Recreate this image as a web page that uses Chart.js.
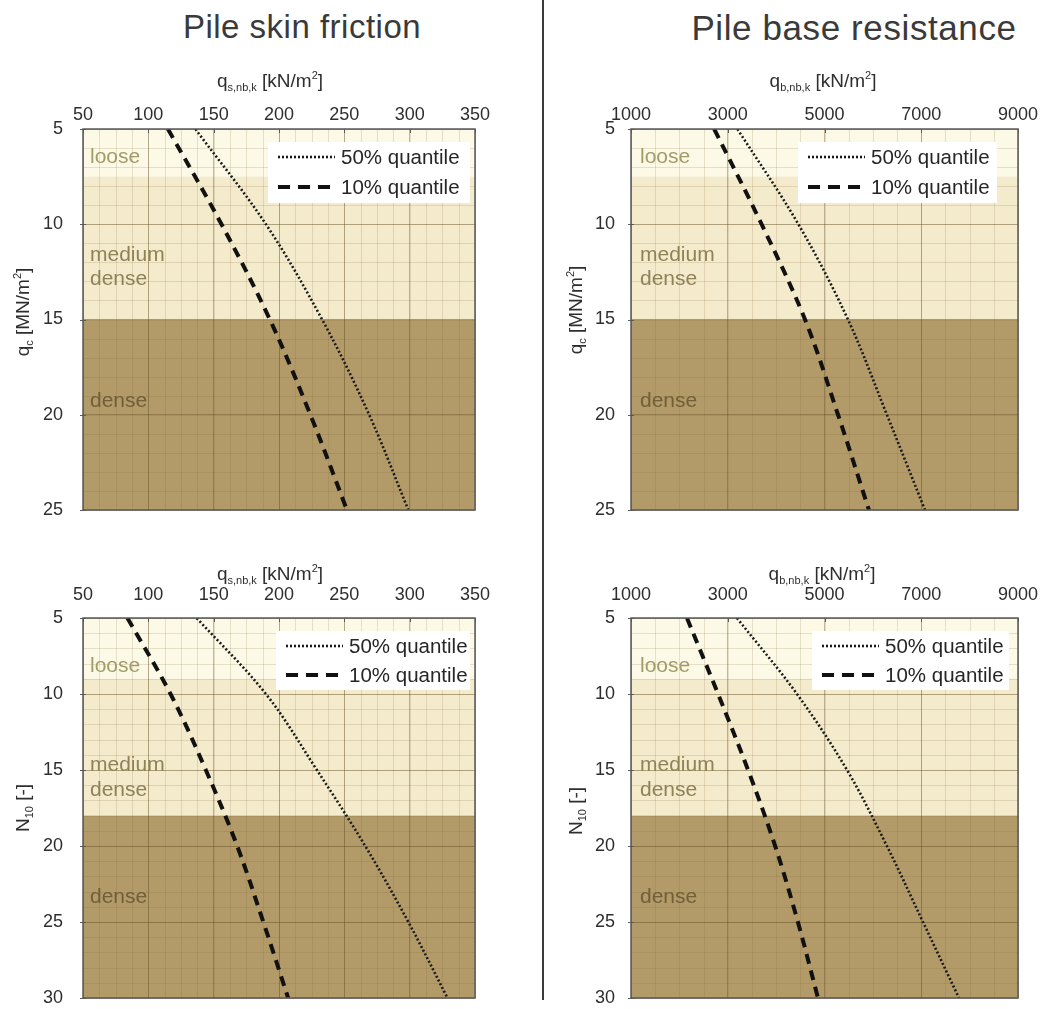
<!DOCTYPE html>
<html><head><meta charset="utf-8">
<script src="https://cdn.jsdelivr.net/npm/chart.js@4.4.0/dist/chart.umd.min.js"></script>
<style>
html,body{margin:0;padding:0;background:#fff;}
body{width:1051px;height:1009px;position:relative;overflow:hidden;font-family:"Liberation Sans",Arial,sans-serif;}
.ttl{position:absolute;top:8px;color:#3a3a3a;white-space:nowrap;transform:translateX(-50%);}
.wrap{position:absolute;}
.wrap canvas{display:block;}
#divider{position:absolute;left:542px;top:0;width:2px;height:1000px;background:#3a3a3a;}
</style></head>
<body>
<div class="ttl" style="left:302px;font-size:33px;letter-spacing:0.5px">Pile skin friction</div>
<div class="ttl" style="left:854px;font-size:35px;letter-spacing:0.6px">Pile base resistance</div>
<div id="divider"></div>
<div class="wrap" style="left:0;top:50px;width:530px;height:470px"><canvas id="c1" width="530" height="470"></canvas></div>
<div class="wrap" style="left:545px;top:50px;width:506px;height:470px"><canvas id="c2" width="506" height="470"></canvas></div>
<div class="wrap" style="left:0;top:540px;width:530px;height:469px"><canvas id="c3" width="530" height="469"></canvas></div>
<div class="wrap" style="left:545px;top:540px;width:506px;height:469px"><canvas id="c4" width="506" height="469"></canvas></div>
<script>
// ---------- DATA ----------
const qcLevels = [5, 10, 15, 20, 25];          // q_c [MN/m²]
const n10Levels = [5, 10, 15, 20, 25, 30];     // N10 [-]

const skinQc50 = [136, 190, 233, 269, 299];
const skinQc10 = [115, 156, 193, 224, 252];
const baseQc50 = [3200, 4460, 5485, 6290, 7077];
const baseQc10 = [2720, 3700, 4597, 5280, 5919];

const skinN50 = [137, 190, 229, 266, 299, 329];
const skinN10 = [84, 117, 144, 168, 188, 207];
const baseN50 = [3190, 4431, 5465, 6290, 7036, 7780];
const baseN10 = [2157, 2800, 3420, 3980, 4450, 4865];

const seriesNames = ['50% quantile', '10% quantile'];
const bandNames = ['loose', 'medium', 'dense'];
const qcBandLimits = [5, 7.5, 15, 25];
const n10BandLimits = [5, 9, 18, 30];

const skinTicks = {min: 50, max: 350, step: 50, minor: 12.5};
const baseTicks = {min: 1000, max: 9000, step: 2000, minor: 500};
const qcTicks = {min: 5, max: 25, step: 5, minor: 1};
const n10Ticks = {min: 5, max: 30, step: 5, minor: 1};

// ---------- STYLE ----------
const FONT = '"Liberation Sans", Arial, sans-serif';
const bandColors = ['#fcf9e7', '#f4ebcd', '#b39a69'];
const bandTextColors = ['#a39b68', '#8e8257', '#6f6039'];
const majorGrid = 'rgba(95,75,35,0.38)';
const minorGrid = 'rgba(120,95,45,0.17)';

function pts(xs, ys){ return xs.map((v,i)=>({x:v, y:ys[i]})); }

function drawRich(ctx, parts, x, y, size){
  const subSize = Math.round(size*0.58);
  let w = 0;
  parts.forEach(p=>{ ctx.font = (p.sub||p.sup? subSize: size)+'px '+FONT; p.w = ctx.measureText(p.t).width; w += p.w; });
  let cx = x - w/2;
  ctx.textBaseline = 'alphabetic';
  ctx.textAlign = 'left';
  parts.forEach(p=>{
    ctx.font = (p.sub||p.sup? subSize: size)+'px '+FONT;
    const dy = p.sub ? size*0.22 : (p.sup ? -size*0.42 : 0);
    ctx.fillText(p.t, cx, y + size*0.35 + dy);
    cx += p.w;
  });
}

function makeDecor(spec){
  return {
    id: 'decor_'+spec.id,
    beforeDraw(chart){
      const {ctx, chartArea:a, scales:{x, y}} = chart;
      ctx.save();
      for (let i=0;i<spec.bandLimits.length-1;i++){
        const y1 = y.getPixelForValue(spec.bandLimits[i]);
        const y2 = y.getPixelForValue(spec.bandLimits[i+1]);
        ctx.fillStyle = bandColors[i];
        ctx.fillRect(a.left, Math.min(y1,y2), a.right-a.left, Math.abs(y2-y1));
      }
      ctx.strokeStyle = minorGrid; ctx.lineWidth = 1;
      ctx.beginPath();
      for (let v = spec.xt.min; v <= spec.xt.max + 1e-9; v += spec.xt.minor){
        const px = Math.round(x.getPixelForValue(v)) + 0.5;
        ctx.moveTo(px, a.top); ctx.lineTo(px, a.bottom);
      }
      for (let v = spec.yt.min; v <= spec.yt.max + 1e-9; v += spec.yt.minor){
        const py = Math.round(y.getPixelForValue(v)) + 0.5;
        ctx.moveTo(a.left, py); ctx.lineTo(a.right, py);
      }
      ctx.stroke();
      ctx.restore();
    },
    beforeDatasetsDraw(chart){
      const {ctx, chartArea:a, scales:{y}} = chart;
      ctx.save();
      ctx.font = '21px '+FONT;
      ctx.textAlign = 'left'; ctx.textBaseline = 'middle';
      spec.bandLabels.forEach(l=>{
        ctx.fillStyle = bandTextColors[l.c];
        ctx.fillText(l.t, a.left + spec.labelDx, y.getPixelForValue(l.v));
      });
      ctx.restore();
    },
    afterDraw(chart){
      const {ctx, chartArea:a, scales:{x, y}} = chart;
      ctx.save();
      // small tick marks on top and left edges
      ctx.strokeStyle = '#5a5a5a'; ctx.lineWidth = 1;
      ctx.beginPath();
      x.ticks.forEach(t=>{ const px = Math.round(x.getPixelForValue(t.value))+0.5; ctx.moveTo(px, a.top); ctx.lineTo(px, a.top+4); });
      y.ticks.forEach(t=>{ const py = Math.round(y.getPixelForValue(t.value))+0.5; ctx.moveTo(a.left-3, py); ctx.lineTo(a.left+3, py); });
      ctx.stroke();
      // frame
      ctx.strokeStyle = '#5a5a5a'; ctx.lineWidth = 1.5;
      ctx.strokeRect(a.left, a.top, a.right-a.left, a.bottom-a.top);
      // legend
      const L = spec.legend;
      ctx.fillStyle = '#ffffff';
      ctx.fillRect(L.x, L.y, L.w, L.h);
      chart.data.datasets.forEach((ds, i)=>{
        const ry = L.y + L.r0 + i*L.dr;
        ctx.strokeStyle = ds.borderColor;
        ctx.lineWidth = ds.borderWidth;
        ctx.setLineDash(i===0 ? [2,2] : [12,8]);
        ctx.beginPath(); ctx.moveTo(L.x + 10, ry); ctx.lineTo(L.x + 10 + L.sw, ry); ctx.stroke();
        ctx.setLineDash([]);
        ctx.fillStyle = '#262626';
        ctx.font = '20.5px '+FONT; ctx.textAlign='left'; ctx.textBaseline='middle';
        ctx.fillText(ds.label, L.x + 10 + L.sw + 6, ry + 1);
      });
      // axis titles
      ctx.fillStyle = '#2e2e2e';
      drawRich(ctx, spec.xTitle, spec.xTitlePos[0], spec.xTitlePos[1], 19);
      ctx.translate(spec.yTitlePos[0], spec.yTitlePos[1]);
      ctx.rotate(-Math.PI/2);
      drawRich(ctx, spec.yTitle, 0, 0, 19);
      ctx.restore();
    }
  };
}

function makeChart(spec){
  const cfg = {
    type: 'scatter',
    data: {
      datasets: [
        {label: seriesNames[0], data: pts(spec.s50, spec.levels), showLine: true, borderColor: '#1a1a1a', borderWidth: 2.6, borderDash: [2,2.2], pointRadius: 0, tension: 0.35, fill: false},
        {label: seriesNames[1], data: pts(spec.s10, spec.levels), showLine: true, borderColor: '#111', borderWidth: 4, borderDash: [10,7], pointRadius: 0, tension: 0.35, fill: false}
      ]
    },
    options: {
      responsive: false, animation: false, maintainAspectRatio: false,
      layout: {padding: {left: 0, top: 0, right: spec.padR, bottom: spec.padB}},
      plugins: {legend: {display: false}, tooltip: {enabled: false}, title: {display: false}},
      scales: {
        x: {
          type: 'linear', position: 'top', min: spec.xt.min, max: spec.xt.max,
          afterFit: s => { s.height = spec.top; s.paddingLeft = 0; s.paddingRight = 0; s.paddingTop = 0; s.paddingBottom = 0; },
          ticks: {stepSize: spec.xt.step, padding: spec.xPad, color: '#2e2e2e', font: {family: FONT, size: 18}, maxRotation: 0, autoSkip: false, callback: v => String(v)},
          grid: {color: majorGrid, lineWidth: 1, drawTicks: false},
          border: {display: false}
        },
        y: {
          type: 'linear', position: 'left', reverse: true, min: spec.yt.min, max: spec.yt.max,
          afterFit: s => { s.width = spec.left; s.paddingTop = 0; s.paddingBottom = 0; s.paddingLeft = 0; s.paddingRight = 0; },
          ticks: {stepSize: spec.yt.step, padding: spec.yPad, color: '#2e2e2e', font: {family: FONT, size: 18}, autoSkip: false, callback: v => String(v)},
          grid: {color: majorGrid, lineWidth: 1, drawTicks: false},
          border: {display: false}
        }
      }
    },
    plugins: [makeDecor(spec)]
  };
  return new Chart(document.getElementById(spec.id), cfg);
}

const xTitleSkin = [{t:'q'},{t:'s,nb,k',sub:true},{t:' [kN/m'},{t:'2',sup:true},{t:']'}];
const xTitleBase = [{t:'q'},{t:'b,nb,k',sub:true},{t:' [kN/m'},{t:'2',sup:true},{t:']'}];
const yTitleQc = [{t:'q'},{t:'c',sub:true},{t:' [MN/m'},{t:'2',sup:true},{t:']'}];
const yTitleN = [{t:'N'},{t:'10',sub:true},{t:' [-]'}];

makeChart({id:'c1', levels: qcLevels, s50: skinQc50, s10: skinQc10, xt: skinTicks, yt: qcTicks,
  bandLimits: qcBandLimits, left: 83, top: 79, padR: 55, padB: 10, xPad: 3, yPad: 20,
  bandLabels: [{t:bandNames[0], v:6.5, c:0},{t:bandNames[1], v:11.6, c:1},{t:'dense', v:12.9, c:1},{t:bandNames[2], v:19.3, c:2}],
  labelDx: 7,
  legend: {x: 268, y: 92, w: 202, h: 61, r0: 15, dr: 30, sw: 57},
  xTitle: xTitleSkin, xTitlePos: [270, 30], yTitle: yTitleQc, yTitlePos: [22, 262]});

makeChart({id:'c2', levels: qcLevels, s50: baseQc50, s10: baseQc10, xt: baseTicks, yt: qcTicks,
  bandLimits: qcBandLimits, left: 86, top: 79, padR: 33, padB: 10, xPad: 3, yPad: 16,
  bandLabels: [{t:bandNames[0], v:6.5, c:0},{t:bandNames[1], v:11.6, c:1},{t:'dense', v:12.9, c:1},{t:bandNames[2], v:19.3, c:2}],
  labelDx: 9,
  legend: {x: 253, y: 92, w: 199, h: 61, r0: 15, dr: 30, sw: 57},
  xTitle: xTitleBase, xTitlePos: [278, 30], yTitle: yTitleQc, yTitlePos: [30, 260]});

makeChart({id:'c3', levels: n10Levels, s50: skinN50, s10: skinN10, xt: skinTicks, yt: n10Ticks,
  bandLimits: n10BandLimits, left: 83, top: 78, padR: 55, padB: 11, xPad: 12, yPad: 20,
  bandLabels: [{t:bandNames[0], v:8.2, c:0},{t:bandNames[1], v:14.7, c:1},{t:'dense', v:16.3, c:1},{t:bandNames[2], v:23.4, c:2}],
  labelDx: 7,
  legend: {x: 276, y: 91, w: 194, h: 59, r0: 15, dr: 29, sw: 57},
  xTitle: xTitleSkin, xTitlePos: [270, 33], yTitle: yTitleN, yTitlePos: [22, 268]});

makeChart({id:'c4', levels: n10Levels, s50: baseN50, s10: baseN10, xt: baseTicks, yt: n10Ticks,
  bandLimits: n10BandLimits, left: 86, top: 78, padR: 33, padB: 11, xPad: 12, yPad: 16,
  bandLabels: [{t:bandNames[0], v:8.2, c:0},{t:bandNames[1], v:14.7, c:1},{t:'dense', v:16.3, c:1},{t:bandNames[2], v:23.4, c:2}],
  labelDx: 9,
  legend: {x: 267, y: 91, w: 197, h: 59, r0: 15, dr: 29, sw: 57},
  xTitle: xTitleBase, xTitlePos: [277, 33], yTitle: yTitleN, yTitlePos: [30, 271]});
</script>
</body></html>
